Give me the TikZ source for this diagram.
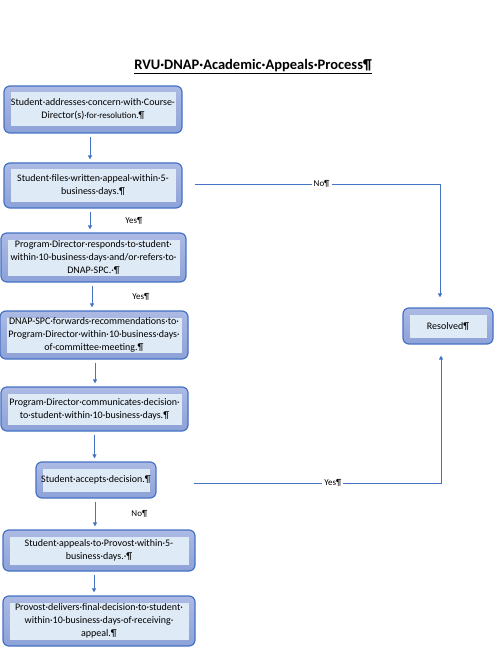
\documentclass[tikz,border=0pt]{standalone}
\usepackage{fontspec}
\setmainfont{Carlito}
\usepackage{tikz}
\usetikzlibrary{arrows.meta,positioning,calc}
\definecolor{boxline}{RGB}{68,114,196}
\definecolor{boxtop}{RGB}{172,186,228}
\definecolor{boxbot}{RGB}{141,162,216}
\definecolor{boxin}{RGB}{222,234,246}
\tikzstyle{stepbox}=[draw=boxline,line width=1.2pt,rounded corners=6pt,top color=boxtop,bottom color=boxbot,
  align=center,inner sep=0pt,font=\fontsize{10}{13}\selectfont,
  path picture={\fill[boxin,sharp corners] ($(path picture bounding box.north west)+(6.5pt,-6.5pt)$) rectangle ($(path picture bounding box.south east)+(-6.5pt,6.5pt)$);}]
\tikzstyle{flow}=[draw=boxline,line width=0.9pt,-{Triangle[length=4pt,width=4pt]},shorten <=3pt,shorten >=3pt]
\tikzstyle{lbl}=[fill=white,inner sep=2pt,font=\fontsize{9}{10}\selectfont]

\begin{document}
\begin{tikzpicture}[x=1pt,y=-1pt]
\useasboundingbox (0,0) rectangle (503,655);
\node[font=\fontsize{14.5}{16}\selectfont\bfseries] (title) at (253,67) {\underline{RVU·DNAP·Academic·Appeals·Process¶}};
\node[stepbox,minimum width=178pt,minimum height=47pt] (addr) at (93,109.5)
  {Student·addresses·concern·with·Course-\\Director(s){\fontsize{9}{13}\selectfont·for·resolution.}¶};
\node[stepbox,minimum width=178pt,minimum height=45pt] (files) at (93,185.5)
  {Student·files·written·appeal·within·5-\\business·days.¶};
\node[stepbox,minimum width=185pt,minimum height=49pt] (responds) at (93.5,257.5)
  {Program·Director·responds·to·student·\\within·10·business·days·and/or·refers·to·\\DNAP-SPC.·¶};
\node[stepbox,minimum width=188pt,minimum height=48pt] (forwards) at (94,335)
  {DNAP-SPC·forwards·recommendations·to·\\Program·Director·within·10·business·days·\\of·committee·meeting.¶};
\node[stepbox,minimum width=187pt,minimum height=44pt] (communicates) at (94.5,409)
  {Program·Director·communicates·decision·\\to·student·within·10·business·days.¶};
\node[stepbox,minimum width=120pt,minimum height=36pt] (accepts) at (96,480)
  {Student·accepts·decision.¶};
\node[stepbox,minimum width=192pt,minimum height=41pt] (appeals) at (99,550.5)
  {Student·appeals·to·Provost·within·5-\\business·days.·¶};
\node[stepbox,minimum width=192pt,minimum height=50pt] (provost) at (99,621)
  {Provost·delivers·final·decision·to·student·\\within·10·business·days·of·receiving·\\appeal.¶};
\node[stepbox,minimum width=90pt,minimum height=36pt] (resolved) at (448,326) {Resolved¶};

\draw[flow] ([xshift=-3pt]addr.south) -- ([xshift=-3pt]addr.south |- files.north);
\draw[flow] ([xshift=-3pt]files.south) -- ([xshift=-3pt]files.south |- responds.north)
  node[lbl,midway,right=33pt] {Yes¶};
\draw[flow] ([xshift=-1.5pt]responds.south) -- ([xshift=-1.5pt]responds.south |- forwards.north)
  node[lbl,midway,right=38pt] {Yes¶};
\draw[flow] ([xshift=1pt]forwards.south) -- ([xshift=1pt]forwards.south |- communicates.north);
\draw[flow] (communicates.south) -- (communicates.south |- accepts.north);
\draw[flow] ([xshift=-1pt]accepts.south) -- ([xshift=-1pt]accepts.south |- appeals.north)
  node[lbl,midway,right=34pt] {No¶};
\draw[flow] ([xshift=-5pt]appeals.south) -- ([xshift=-5pt]appeals.south |- provost.north);

\draw[flow,shorten <=12pt,shorten >=10pt] ([yshift=1.5pt]files.east) -| ([xshift=-8pt]resolved.north)
  node[lbl,pos=0.27] {No¶};
\draw[flow,shorten <=37pt,shorten >=11pt] ([yshift=-3pt]accepts.east) -| ([xshift=-7pt]resolved.south)
  node[lbl,pos=0.31] {Yes¶};
\end{tikzpicture}
\end{document}
